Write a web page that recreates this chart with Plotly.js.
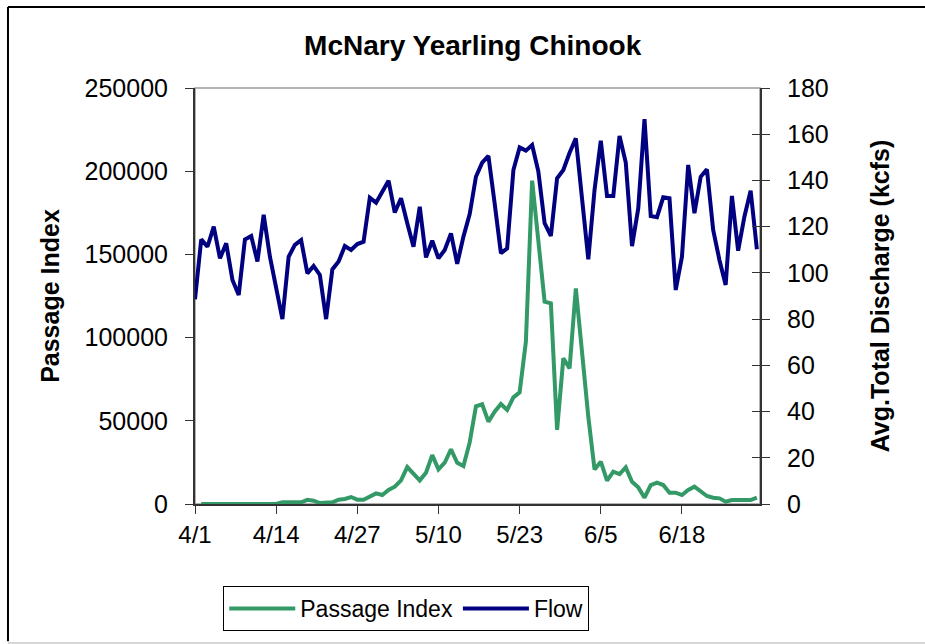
<!DOCTYPE html>
<html>
<head>
<meta charset="utf-8">
<script src="https://cdn.plot.ly/plotly-3.0.1.min.js"></script>
<style>
  body { margin: 0; background: #fff; }
  #chart { width: 925px; height: 644px; }
</style>
</head>
<body>
<div id="chart"></div>
<script>
// daily values, 4/1 through 6/30
var startDate = '2004-04-01';

var passage = [
  null, 0, 0, 0, 0, 0, 0, 0, 0, 0,
  0, 0, 0, 0, 1000, 1000, 1000, 1000, 2500, 2000,
  600, 600, 1000, 2600, 3000, 4200, 2600, 2600, 4200, 6400,
  5400, 8400, 10400, 14200, 22200, 18600, 14200, 18800, 29400, 20800,
  24800, 32900, 24800, 22800, 37000, 58700, 59900, 49500, 55500, 60100,
  56500, 64100, 67100, 97500, 194300, 158000, 121600, 120600, 44500, 87600,
  81500, 129600, 88300, 52400, 20800, 25400, 14000, 19400, 18000, 22000,
  13400, 10000, 3800, 11400, 12800, 11400, 6800, 6800, 5400, 8400,
  10400, 7600, 4800, 3800, 3400, 1400, 2400, 2400, 2400, 2400,
  3800
];

var flow = [
  88.6, 114.5, 111.3, 120, 106.3, 112.8, 96.9, 90.4, 114.5, 116,
  104.9, 125.1, 107, 93, 80, 107, 112.1, 114.2, 99.8, 103,
  99.1, 80, 101.5, 104.9, 111.6, 109.9, 112.5, 113.5, 132.5, 130.4,
  135.1, 139.9, 126.1, 132.3, 121.5, 111.3, 128.6, 106.7, 113.9, 106.3,
  109.9, 117.1, 103.9, 115.7, 125.5, 141.6, 147.7, 150.6, 130, 108.5,
  110.6, 144.5, 154.3, 152.9, 155.3, 143.8, 121.5, 116, 140.9, 144.5,
  152, 158.2, 132, 105.9, 136, 157.2, 133.3, 133.3, 159.2, 147.7,
  111.6, 127.9, 166.5, 124.6, 124.1, 132.7, 132.3, 92.6, 107, 146.7,
  125.8, 141.6, 144.8, 118.6, 105.6, 94.8, 133.3, 109.6, 124.3, 135.6,
  110.2
];

var dates = [];
var d0 = new Date(startDate + 'T00:00:00Z');
for (var i = 0; i < flow.length; i++) {
  var d = new Date(d0.getTime() + i * 86400000);
  dates.push(d.toISOString().slice(0, 10));
}

var font = 'Liberation Sans, Arial, sans-serif';

var trace1 = {
  x: dates,
  y: passage,
  name: 'Passage Index',
  mode: 'lines',
  type: 'scatter',
  line: {color: '#339966', width: 4},
  yaxis: 'y'
};

var trace2 = {
  x: dates,
  y: flow,
  name: 'Flow',
  mode: 'lines',
  type: 'scatter',
  line: {color: '#000080', width: 4},
  yaxis: 'y2'
};

// dummy trace so the right axis gets inward ticks too
var trace3 = {
  x: [dates[0]],
  y: [null],
  showlegend: false,
  hoverinfo: 'skip',
  yaxis: 'y3'
};

var axisColor = '#333333';

var layout = {
  width: 925,
  height: 644,
  paper_bgcolor: '#ffffff',
  plot_bgcolor: '#ffffff',
  hovermode: false,
  font: {family: font, color: '#000', size: 25},
  margin: {l: 195, r: 165, t: 88, b: 140, pad: 0},
  title: {
    text: '<b>McNary Yearling Chinook</b>',
    font: {family: font, size: 28, color: '#000'},
    x: 0.511, xanchor: 'center',
    y: 0.93, yanchor: 'middle'
  },
  xaxis: {
    type: 'date',
    range: ['2004-04-01', '2004-06-30 12:00'],
    tick0: startDate,
    dtick: 13 * 86400000,
    tickformat: '%-m/%-d',
    ticks: 'outside', ticklen: 8, tickcolor: axisColor, tickwidth: 1,
    showline: true, linecolor: axisColor, linewidth: 2,
    showgrid: false, zeroline: false,
    tickfont: {family: font, size: 24},
    fixedrange: true
  },
  yaxis: {
    range: [0, 250000],
    dtick: 50000,
    tickformat: 'd',
    ticks: 'outside', ticklen: 8, tickcolor: axisColor, tickwidth: 1,
    ticklabelstandoff: 12,
    showline: true, linecolor: axisColor, linewidth: 2,
    showgrid: false, zeroline: false,
    tickfont: {family: font, size: 25},
    title: {text: '<b>Passage Index</b>', font: {family: font, size: 25}, standoff: 18},
    fixedrange: true
  },
  yaxis2: {
    range: [0, 180],
    dtick: 20,
    overlaying: 'y',
    side: 'right',
    ticks: 'outside', ticklen: 8, tickcolor: axisColor, tickwidth: 1,
    ticklabelstandoff: 12,
    showline: true, linecolor: axisColor, linewidth: 2,
    showgrid: false, zeroline: false,
    tickfont: {family: font, size: 25},
    title: {text: '<b>Avg.Total Discharge (kcfs)</b>', font: {family: font, size: 25}, standoff: 44},
    fixedrange: true
  },
  yaxis3: {
    range: [0, 180],
    dtick: 20,
    overlaying: 'y',
    side: 'right',
    ticks: 'inside', ticklen: 8, tickcolor: axisColor, tickwidth: 1,
    showticklabels: false,
    showline: false, showgrid: false, zeroline: false,
    fixedrange: true
  },
  showlegend: true,
  legend: {
    orientation: 'h',
    x: 0.05, xanchor: 'left',
    y: -0.197, yanchor: 'top',
    bordercolor: '#000', borderwidth: 1,
    font: {family: font, size: 23},
    itemwidth: 66,
    tracegroupgap: 0
  },
  shapes: [
    // plot area border (grey)
    {type: 'rect', xref: 'paper', yref: 'paper', x0: 0, x1: 1, y0: 0, y1: 1,
     line: {color: '#9a9a9a', width: 1.5}, layer: 'below'},
    // outer chart frame
    {type: 'line', xref: 'paper', yref: 'paper', x0: -0.331, x1: -0.331, y0: -0.33, y1: 1.195,
     line: {color: '#000', width: 2}},
    {type: 'line', xref: 'paper', yref: 'paper', x0: -0.331, x1: 1.3, y0: 1.195, y1: 1.195,
     line: {color: '#000', width: 2}},
    {type: 'line', xref: 'paper', yref: 'paper', x0: -0.331, x1: 1.3, y0: -0.334, y1: -0.334,
     line: {color: '#c8c8c8', width: 1.5}}
  ]
};

Plotly.newPlot('chart', [trace1, trace2, trace3], layout, {displayModeBar: false, staticPlot: true});
</script>
</body>
</html>
